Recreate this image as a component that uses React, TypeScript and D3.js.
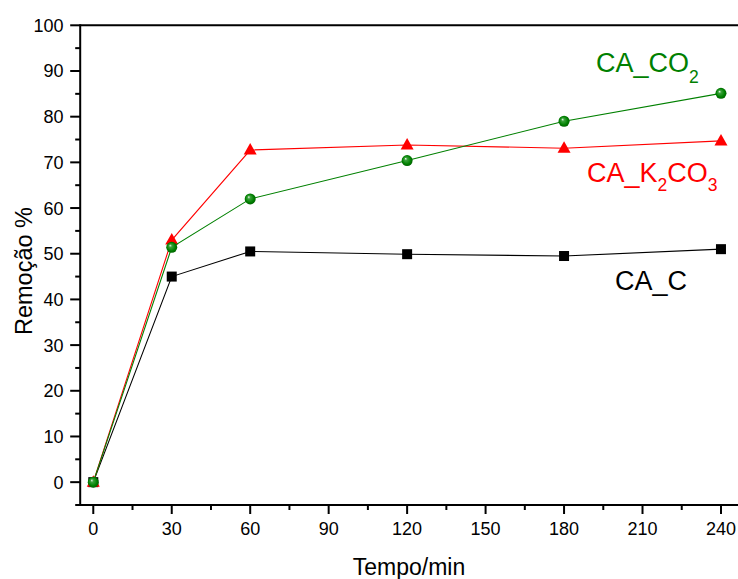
import React from "react";
import * as d3 from "d3";

// Sampling times (min)
const times = [0, 30, 60, 120, 180, 240];

// Removal (%) for each activated carbon
const caC = [0, 45.0, 50.5, 49.9, 49.5, 51.0];
const caK2CO3 = [0, 53.0, 72.7, 73.8, 73.1, 74.7];
const caCO2 = [0, 51.4, 62.0, 70.4, 79.0, 85.1];

// Axis ticks
const xMajor = [0, 30, 60, 90, 120, 150, 180, 210, 240];
const xMinor = [15, 45, 75, 105, 135, 165, 195, 225];
const yMajor = [0, 10, 20, 30, 40, 50, 60, 70, 80, 90, 100];
const yMinor = [-5, 5, 15, 25, 35, 45, 55, 65, 75, 85, 95];

const W = 738;
const H = 579;
const FONT = "'Liberation Sans', Arial, Helvetica, sans-serif";

const x = d3.scaleLinear().domain([-5, 250]).range([80.2, 80.2 + 255 * 2.6154]);
const y = d3.scaleLinear().domain([-5, 100]).range([505, 25.3]);

function seriesPath(vals: number[]) {
  const line = d3
    .line<number>()
    .x((_, i) => x(times[i]))
    .y((v) => y(v));
  return line(vals) || "";
}

export default function App() {
  const axisColor = "#000";
  return (
    <svg
      width={W}
      height={H}
      viewBox={`0 0 ${W} ${H}`}
      style={{ position: "absolute", left: 0, top: 0, background: "#fff" }}
      fontFamily={FONT}
    >
      <defs>
        <radialGradient id="ball" cx="0.5" cy="0.5" r="0.55" fx="0.35" fy="0.32">
          <stop offset="0" stopColor="#e8f5e8" />
          <stop offset="0.25" stopColor="#3aa23a" />
          <stop offset="0.7" stopColor="#008000" />
          <stop offset="1" stopColor="#005a00" />
        </radialGradient>
      </defs>
      <rect x={0} y={0} width={W} height={H} fill="#fff" />

      {/* frame top line */}
      <line x1={x(-5)} x2={W + 10} y1={y(100)} y2={y(100)} stroke={axisColor} strokeWidth={2} />

      {/* y axis */}
      <line x1={x(-5)} x2={x(-5)} y1={y(-5) + 1} y2={y(100) - 1} stroke={axisColor} strokeWidth={2} />
      {yMajor.map((v) => (
        <g key={"ym" + v}>
          <line x1={x(-5) - 10} x2={x(-5)} y1={y(v)} y2={y(v)} stroke={axisColor} strokeWidth={2} />
          <text x={63.5} y={y(v)} dy="0.36em" textAnchor="end" fontSize={18} fill="#000">
            {v}
          </text>
        </g>
      ))}
      {yMinor.map((v) => (
        <line key={"yn" + v} x1={x(-5) - 5} x2={x(-5)} y1={y(v)} y2={y(v)} stroke={axisColor} strokeWidth={2} />
      ))}

      {/* x axis */}
      <line x1={x(-5) - 1} x2={W + 10} y1={y(-5)} y2={y(-5)} stroke={axisColor} strokeWidth={2} />
      {xMajor.map((v) => (
        <g key={"xm" + v}>
          <line x1={x(v)} x2={x(v)} y1={y(-5)} y2={y(-5) + 9} stroke={axisColor} strokeWidth={2} />
          <text x={x(v)} y={535} textAnchor="middle" fontSize={18} fill="#000">
            {v}
          </text>
        </g>
      ))}
      {xMinor.map((v) => (
        <line key={"xn" + v} x1={x(v)} x2={x(v)} y1={y(-5)} y2={y(-5) + 5} stroke={axisColor} strokeWidth={2} />
      ))}

      {/* axis titles */}
      <text x={409} y={575} textAnchor="middle" fontSize={23} fill="#000">
        Tempo/min
      </text>
      <text
        transform={`translate(32,271) rotate(-90)`}
        textAnchor="middle"
        fontSize={23.5}
        fill="#000"
      >
        Remoção %
      </text>

      {/* CA_C */}
      <path d={seriesPath(caC)} fill="none" stroke="#000" strokeWidth={1.1} />
      {caC.map((v, i) => (
        <rect key={"c" + i} x={x(times[i]) - 5} y={y(v) - 5} width={10} height={10} fill="#000" />
      ))}

      {/* CA_K2CO3 */}
      <path d={seriesPath(caK2CO3)} fill="none" stroke="#ff0000" strokeWidth={1.1} />
      {caK2CO3.map((v, i) => {
        const cx = x(times[i]);
        const cy = y(v);
        return (
          <path
            key={"k" + i}
            d={`M${cx},${cy - 7} L${cx + 6.5},${cy + 4.5} L${cx - 6.5},${cy + 4.5} Z`}
            fill="#ff0000"
          />
        );
      })}

      {/* CA_CO2 */}
      <path d={seriesPath(caCO2)} fill="none" stroke="#008000" strokeWidth={1.1} />
      {caCO2.map((v, i) => (
        <circle key={"g" + i} cx={x(times[i])} cy={y(v)} r={5.5} fill="url(#ball)" />
      ))}

      {/* series labels */}
      <text x={596} y={71.7} fontSize={27} fill="#008000">
        CA_CO
        <tspan fontSize={17.5} dy={11}>2</tspan>
      </text>
      <text x={587} y={181.7} fontSize={27} fill="#ff0000">
        CA_K
        <tspan fontSize={17.5} dy={9}>2</tspan>
        <tspan dy={-9}>CO</tspan>
        <tspan fontSize={17.5} dy={9}>3</tspan>
      </text>
      <text x={615} y={290} fontSize={27} fill="#000">
        CA_C
      </text>
    </svg>
  );
}
